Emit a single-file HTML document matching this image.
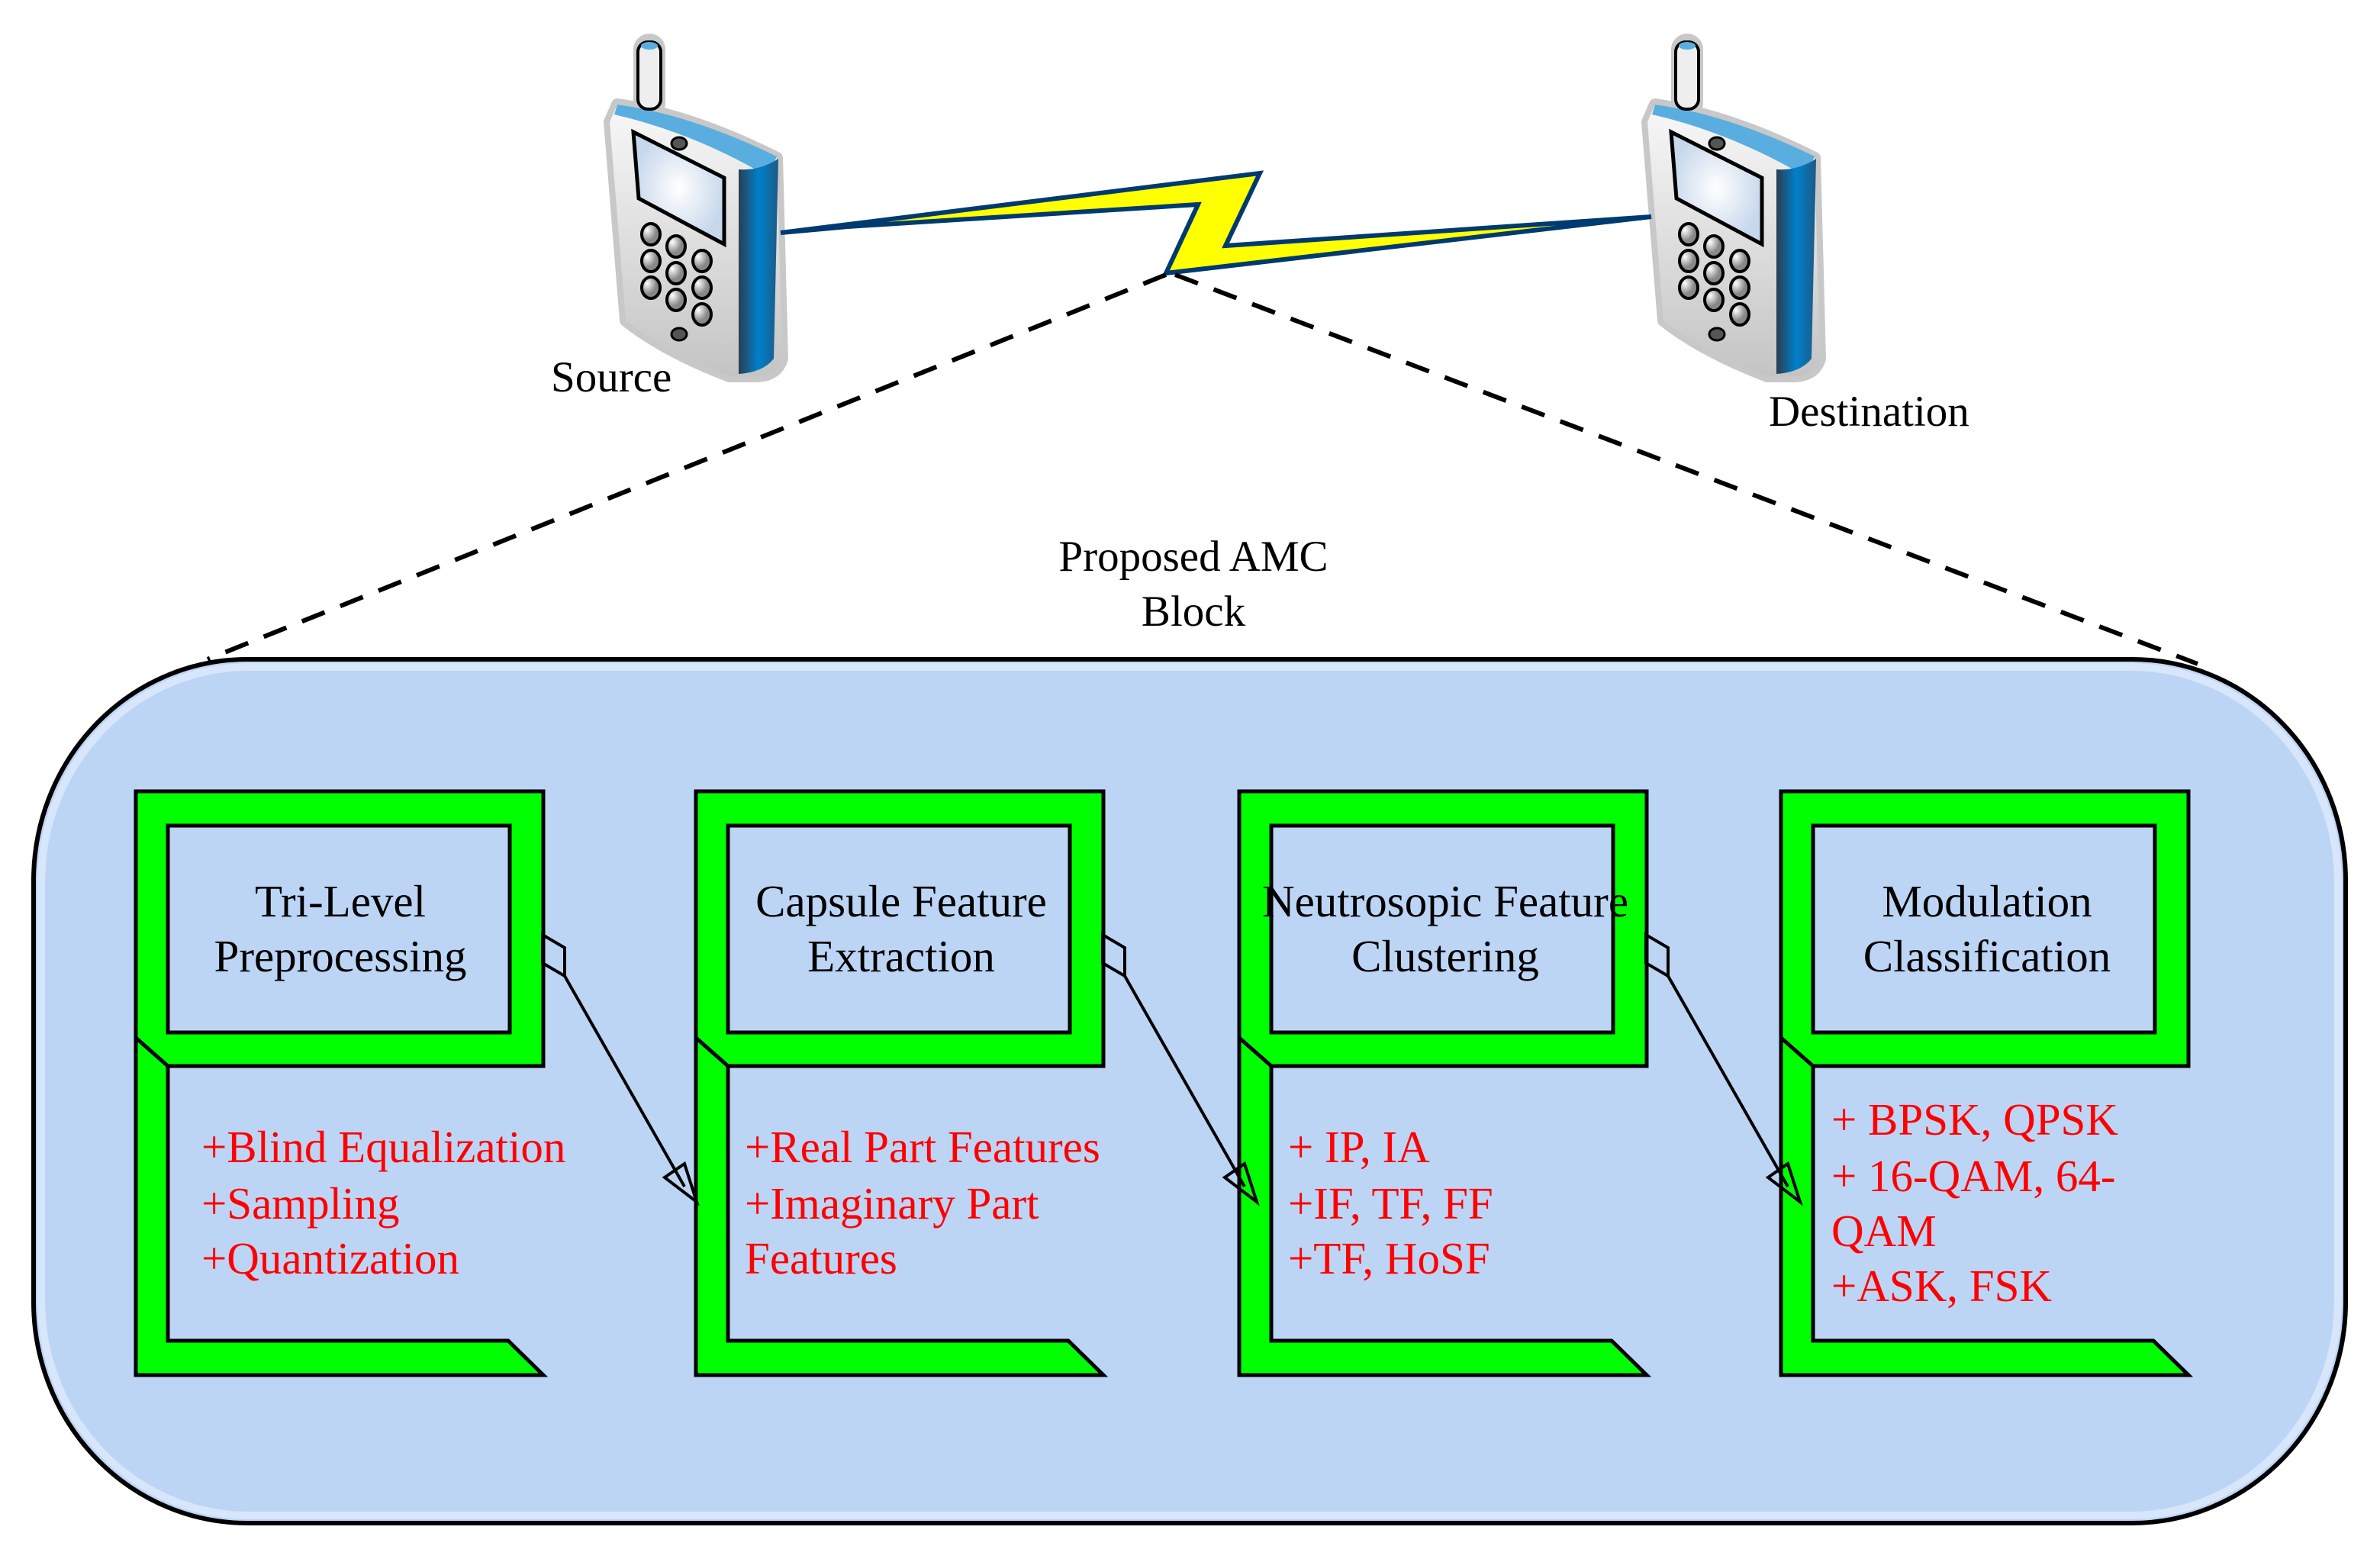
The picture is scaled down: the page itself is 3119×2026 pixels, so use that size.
<!DOCTYPE html>
<html><head><meta charset="utf-8"><style>
html,body{margin:0;padding:0;background:#fff}
svg{display:block}
text{font-family:"Liberation Serif",serif}
</style></head><body>
<svg width="3119" height="2026" viewBox="0 0 3119 2026" xmlns="http://www.w3.org/2000/svg">
<defs>
<linearGradient id="side" x1="0" x2="1" y1="0" y2="0">
<stop offset="0" stop-color="#2a3e50"/><stop offset="0.5" stop-color="#0080cc"/><stop offset="1" stop-color="#1d5a85"/></linearGradient>
<linearGradient id="bodyg" x1="0" x2="0" y1="0" y2="1">
<stop offset="0" stop-color="#f8f8f8"/><stop offset="1" stop-color="#c4c4c4"/></linearGradient>
<radialGradient id="scr"><stop offset="0" stop-color="#ffffff"/><stop offset="1" stop-color="#c8d8ec"/></radialGradient>
<radialGradient id="key" cx="0.3" cy="0.3"><stop offset="0" stop-color="#fff"/><stop offset="1" stop-color="#888"/></radialGradient>
<g id="phone">
<path d="M809,137 Q905,150 1018,207 L1025,470 Q1018,493 990,493 L956,493 Q870,460 820,420 L799,160 Z" fill="#c8c8c8" stroke="#c8c8c8" stroke-width="16" stroke-linejoin="round"/>
<rect x="836" y="50" width="30" height="100" rx="15" fill="#c8c8c8" stroke="#c8c8c8" stroke-width="12"/>
<path d="M809,137 Q905,150 1018,207 L1025,470 Q1018,493 990,493 L956,493 Q870,460 820,420 L799,160 Z" fill="url(#bodyg)"/>
<path d="M809,137 Q905,150 1018,205 Q1012,222 990,222 Q900,172 805,150 Z" fill="#5aaedf"/>
<path d="M968,222 Q995,224 1020,208 L1014,470 Q1000,488 968,490 Z" fill="url(#side)"/>
<rect x="836" y="55" width="30" height="88" rx="13" fill="#eee" stroke="#000" stroke-width="4"/>
<ellipse cx="851" cy="60" rx="11" ry="5" fill="#5aaedf"/>
<polygon points="830,173 949,233 949,320 837,260" fill="url(#scr)" stroke="#000" stroke-width="5"/>
<ellipse cx="890" cy="188" rx="10" ry="8" fill="#555" stroke="#000" stroke-width="3"/>
<ellipse cx="890" cy="438" rx="10" ry="8" fill="#555" stroke="#000" stroke-width="3"/>
<g fill="url(#key)" stroke="#000" stroke-width="4">
<ellipse cx="853" cy="307" rx="12" ry="14"/><ellipse cx="853" cy="342" rx="12" ry="14"/><ellipse cx="853" cy="377" rx="12" ry="14"/>
<ellipse cx="886" cy="323" rx="12" ry="14"/><ellipse cx="886" cy="358" rx="12" ry="14"/><ellipse cx="886" cy="393" rx="12" ry="14"/>
<ellipse cx="920" cy="342" rx="12" ry="14"/><ellipse cx="920" cy="377" rx="12" ry="14"/><ellipse cx="920" cy="412" rx="12" ry="14"/>
</g>
</g>
<g id="blk">
<path d="M0,0 H534 V360 H42 V720 H488 L534,765 H0 Z" fill="#00ff00" stroke="#000" stroke-width="5"/>
<rect x="42" y="45" width="448" height="271" fill="#bdd5f5" stroke="#000" stroke-width="5"/>
<line x1="0" y1="323" x2="42" y2="360" stroke="#000" stroke-width="5"/>
</g>
<g id="conn" fill="none" stroke="#000" stroke-width="4">
<polygon points="0,0 29,17 29,54 0,37"/>
<line x1="29" y1="54" x2="186" y2="330"/>
<polygon points="160,318 186,300 202,350" />
</g>
</defs>

<rect width="3119" height="2026" fill="#fff"/>

<use href="#phone"/>
<use href="#phone" transform="translate(1360,0)"/>

<polygon points="1023,305 1651,227 1606,322 2164,284 1528,358 1570,268 1111,297" fill="#ffff00" stroke="#003a70" stroke-width="6" stroke-linejoin="miter"/>

<line x1="1528" y1="360" x2="272" y2="864" stroke="#000" stroke-width="6" stroke-dasharray="32,22"/>
<line x1="1540" y1="360" x2="2880" y2="870" stroke="#000" stroke-width="6" stroke-dasharray="32,22"/>

<text x="722" y="513" font-size="57">Source</text>
<text x="2318" y="558" font-size="57">Destination</text>
<text x="1564" y="748" font-size="57" text-anchor="middle">Proposed AMC</text>
<text x="1564" y="820" font-size="57" text-anchor="middle">Block</text>

<rect x="44" y="864" width="3030" height="1132" rx="280" ry="290" fill="#bdd5f5" stroke="#000" stroke-width="6"/>
<rect x="54" y="874" width="3010" height="1112" rx="272" ry="282" fill="none" stroke="#d8e6fb" stroke-width="10"/>

<use href="#blk" transform="translate(178,1037)"/>
<use href="#blk" transform="translate(912,1037)"/>
<use href="#blk" transform="translate(1624,1037)"/>
<use href="#blk" transform="translate(2334,1037)"/>

<use href="#conn" transform="translate(711,1225)"/>
<use href="#conn" transform="translate(1445,1225)"/>
<use href="#conn" transform="translate(2157,1225)"/>

<g font-size="59" text-anchor="middle" fill="#000">
<text x="446" y="1201">Tri-Level</text><text x="446" y="1273">Preprocessing</text>
<text x="1181" y="1201">Capsule Feature</text><text x="1181" y="1273">Extraction</text>
<text x="1894" y="1201">Neutrosopic Feature</text><text x="1894" y="1273">Clustering</text>
<text x="2604" y="1201">Modulation</text><text x="2604" y="1273">Classification</text>
</g>
<g font-size="59" fill="#ff0000">
<text x="264" y="1523">+Blind Equalization</text>
<text x="264" y="1597">+Sampling</text>
<text x="264" y="1669">+Quantization</text>
<text x="976" y="1523">+Real Part Features</text>
<text x="976" y="1597">+Imaginary Part</text>
<text x="976" y="1669">Features</text>
<text x="1688" y="1523">+ IP, IA</text>
<text x="1688" y="1597">+IF, TF, FF</text>
<text x="1688" y="1669">+TF, HoSF</text>
<text x="2400" y="1487">+ BPSK, QPSK</text>
<text x="2400" y="1561">+ 16-QAM, 64-</text>
<text x="2400" y="1633">QAM</text>
<text x="2400" y="1705">+ASK, FSK</text>
</g>
</svg>
</body></html>
